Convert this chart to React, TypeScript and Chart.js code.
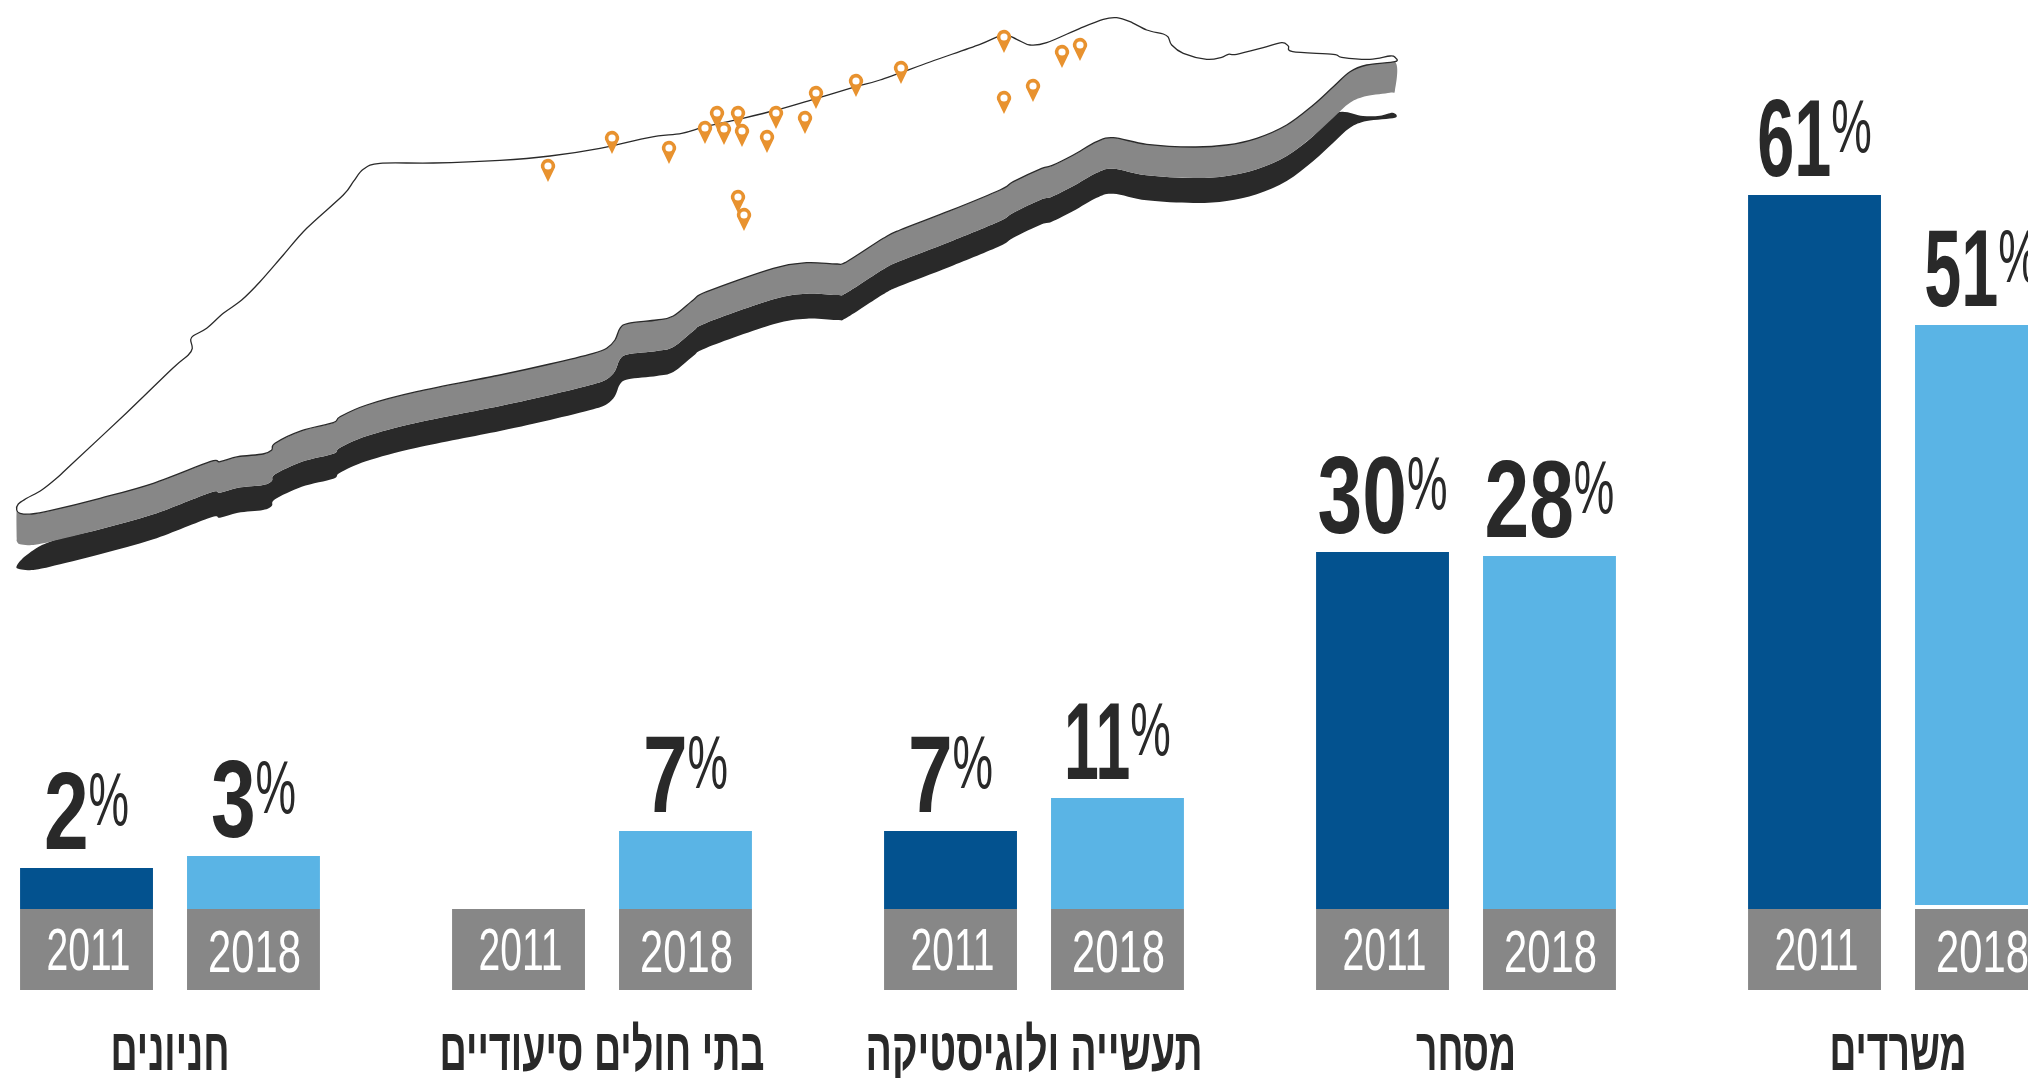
import React, { useEffect, useRef } from "react";
import { Chart, registerables, LinearScale } from "chart.js";

// ---- chart data -----------------------------------------------------------
const categories = ["חניונים", "בתי חולים סיעודיים", "תעשייה ולוגיסטיקה", "מסחר", "משרדים"];
const years = ["2011", "2018"];
const values2011: (number | null)[] = [2, null, 7, 30, 61];
const values2018: (number | null)[] = [3, 7, 11, 28, 51];

// The infographic does not draw its bars strictly to scale: printed percentage -> drawn height
const printedPercent = [0, 2, 3, 7, 11, 28, 30, 51, 61];
const drawnPercent = [0, 3.5, 4.53, 6.67, 9.49, 30.17, 30.51, 49.91, 61.03];

// Map coordinates
const pinX = [548, 612, 669, 705, 717, 724, 738, 742, 767, 776, 805, 816, 856, 738, 744, 901, 1004, 1062, 1080, 1004, 1033];
const pinY = [166, 138, 148, 128, 113, 129, 113, 131, 137, 113, 118, 93, 81, 197, 215, 68, 37, 52, 45, 98, 86];
const northEdge: [number, number][] = [
  [18.3, 504], [26.7, 498.3], [41.7, 490], [58.3, 476.7], [70, 465.7], [126.7, 412.7], [173, 368], [188.3, 355],
  [192.3, 348.3], [190.7, 340], [193.3, 335.7], [206.7, 328.3], [223.3, 313.3], [241.7, 300], [260, 281.7],
  [283.3, 255], [306.7, 228.3], [343.3, 195], [353.3, 181.7], [363.3, 169.3], [380, 163.3], [433.3, 163],
  [500, 160.3], [550, 156], [600, 148.3], [650, 137.3], [681.7, 133.3], [705, 126.7], [738.3, 119.3],
  [776.7, 110], [816.7, 98.3], [855.7, 86.7], [880, 80], [930, 62], [980, 44.3], [1003.3, 35], [1016.7, 39.3],
  [1030, 45], [1046.7, 42.7], [1080, 28.3], [1103.3, 19.3], [1116.7, 17.7], [1130, 21.7], [1146.7, 30],
  [1163.3, 34], [1168.3, 37.3], [1171.7, 45], [1183.3, 53.3], [1206.7, 59.3], [1221.7, 57.3], [1228.3, 54.3],
  [1236.7, 54.3], [1263.3, 47.7], [1281.7, 42.7], [1288.3, 46], [1292.7, 51.7], [1333.3, 54.3], [1341.7, 57.3],
  [1370, 59.3], [1390, 56], [1395, 57.3],
];
const southEdge: [number, number][] = [
  [1395, 61.7], [1366.7, 65], [1350, 71.7], [1333.3, 86.7], [1313.3, 105], [1286.7, 125], [1256.7, 138.3],
  [1226.7, 145], [1193.3, 147], [1146.7, 144.3], [1113.3, 137.7], [1096.7, 141.7], [1073.3, 155], [1051.7, 165.7],
  [1041.7, 168.3], [1013.3, 181.7], [1000, 190], [950, 210.7], [900, 230], [883.3, 238.3], [846.7, 261.7],
  [836.7, 264], [806.7, 262.7], [773.3, 268.3], [706.7, 291.7], [693.3, 300], [673.3, 316], [656.7, 320],
  [628.3, 323.3], [620, 328.3], [615, 340], [606.7, 348.3], [593.3, 353.3], [550, 364], [500, 375], [416.7, 391.7],
  [366.7, 405], [340, 416.7], [333.3, 422.7], [301.7, 430.7], [275, 443.3], [271.7, 450], [263, 454], [238, 456.7],
  [220, 461.7], [210, 461.7], [153.3, 483.3], [100, 498.3], [50, 510.7], [31.7, 514], [20, 513.3], [16.7, 510],
];
const sideCornerLeft: [number, number][] = [[16.7, 538], [16.7, 541]];
const sideCornerRight: [number, number][] = [[1390, 92.7], [1395, 90]];
const shadowLeft: [number, number][] = [[26.7, 555], [50, 541.7]];
const shadowTip: [number, number][] = [[1336.7, 112.7], [1363, 116], [1380, 115.7], [1392.7, 112.7]];

// ---- styles ---------------------------------------------------------------
const DARK_BLUE = "#03528F";
const LIGHT_BLUE = "#5AB4E5";
const GREY = "#878787";
const INK = "#292929";
const PIN = "#E8922F";
const FAMILY = '"Liberation Sans", sans-serif';
const yearWidths: Record<string, number> = { "2011": 84, "2018": 93 };
const categoryWidths = [119, 325, 337, 100, 137];
const tileGap = [0, 0, 0, 0, 4];
const digitNarrowing = [1, 0.83, 0.78];

class DrawnScale extends LinearScale {
  static id = "drawn";
  static defaults = {};
  getPixelForValue(value: number) {
    if (value === null || value === undefined) return NaN;
    let drawn = value;
    for (let i = 1; i < printedPercent.length; i++) {
      if (value <= printedPercent[i]) {
        const t = (value - printedPercent[i - 1]) / (printedPercent[i] - printedPercent[i - 1]);
        drawn = drawnPercent[i - 1] + t * (drawnPercent[i] - drawnPercent[i - 1]);
        break;
      }
    }
    return super.getPixelForValue(drawn);
  }
}

Chart.register(...registerables, DrawnScale);

function makePin() {
  const c = document.createElement("canvas");
  c.width = 18;
  c.height = 36;
  const g = c.getContext("2d")!;
  g.fillStyle = PIN;
  g.beginPath();
  g.arc(9, 18, 7.2, Math.PI * 0.93, Math.PI * 0.07);
  g.lineTo(9, 34);
  g.closePath();
  g.fill();
  g.fillStyle = "#fff";
  g.beginPath();
  g.arc(9, 18, 3.6, 0, Math.PI * 2);
  g.fill();
  return c;
}

// Closed curve through every listed point
function trace(ctx: CanvasRenderingContext2D, pts: [number, number][]) {
  const n = pts.length;
  const at = (i: number) => pts[(i + n) % n];
  ctx.beginPath();
  ctx.moveTo(pts[0][0], pts[0][1]);
  for (let i = 0; i < n; i++) {
    const a = at(i - 1);
    const p = at(i);
    const q = at(i + 1);
    const b = at(i + 2);
    ctx.bezierCurveTo(
      p[0] + (q[0] - a[0]) / 6,
      p[1] + (q[1] - a[1]) / 6,
      q[0] - (b[0] - p[0]) / 6,
      q[1] - (b[1] - p[1]) / 6,
      q[0],
      q[1],
    );
  }
  ctx.closePath();
}

function fitted(ctx: CanvasRenderingContext2D, text: string, cx: number, baseline: number, width: number) {
  ctx.save();
  const w = ctx.measureText(text).width;
  ctx.translate(cx, baseline);
  ctx.scale(width / w, 1);
  ctx.textAlign = "center";
  ctx.textBaseline = "alphabetic";
  ctx.fillText(text, 0, 0);
  ctx.restore();
}

const mapPlugin = {
  id: "relief",
  beforeDatasetsDraw(chart: any) {
    const { ctx, scales } = chart;
    const mx = (v: number) => scales.x.getPixelForValue(v);
    const my = (v: number) => scales.y.getPixelForValue(v);
    const place = (pts: [number, number][], dy = 0) =>
      pts.map(([x, y]) => [mx(x), my(y + dy)] as [number, number]);
    const rev = [...southEdge].reverse();

    ctx.save();
    ctx.fillStyle = INK;
    trace(ctx, [
      ...place(southEdge, 56),
      ...place(shadowLeft),
      ...place(rev.filter(([x]) => x > 60 && x < 1330), 31),
      ...place(shadowTip),
    ]);
    ctx.fill();

    ctx.fillStyle = GREY;
    trace(ctx, [
      ...place(southEdge),
      ...place(sideCornerLeft),
      ...place(rev.slice(1, -1), 31),
      ...place(sideCornerRight),
    ]);
    ctx.fill();

    ctx.fillStyle = "#ffffff";
    ctx.strokeStyle = "#2a2a2a";
    ctx.lineWidth = 1.3;
    trace(ctx, [...place(northEdge), ...place(southEdge)]);
    ctx.fill();
    ctx.stroke();
    ctx.restore();
  },
};

const labelPlugin = {
  id: "tilesAndLabels",
  afterDatasetsDraw(chart: any) {
    const { ctx, scales } = chart;
    const zero = scales.y.getPixelForValue(0);
    const tileHeight = 81;
    ctx.save();
    [values2011, values2018].forEach((series, d) => {
      const meta = chart.getDatasetMeta(d);
      series.forEach((value, i) => {
        const bar = meta.data[i];
        const left = bar.x - bar.width / 2;
        // year tile
        if (tileGap[i] && d === 1) {
          ctx.fillStyle = "#ffffff";
          ctx.fillRect(left, zero - tileGap[i], bar.width, tileGap[i]);
        }
        ctx.fillStyle = GREY;
        ctx.fillRect(left, zero, bar.width, tileHeight);
        ctx.fillStyle = "#ffffff";
        ctx.font = `60px ${FAMILY}`;
        fitted(ctx, years[d], bar.x + (d === 0 ? 2 : 1), zero + (d === 0 ? 61 : 63), yearWidths[years[d]]);

        // value label
        if (value === null) return;
        const baseline = scales.y.getPixelForValue(value) - 19;
        const digits = String(value);
        ctx.textAlign = "left";
        ctx.textBaseline = "alphabetic";
        ctx.font = `bold 110px ${FAMILY}`;
        const ones = digits.split("1").length - 1;
        const sx = 0.73 * digitNarrowing[ones];
        const dw = ctx.measureText(digits).width * sx;
        ctx.font = `76px ${FAMILY}`;
        const pw = ctx.measureText("%").width * 0.6;
        const x0 = bar.x - (dw + pw) / 2;
        ctx.fillStyle = INK;
        ctx.save();
        ctx.translate(x0, baseline);
        ctx.scale(sx, 1);
        ctx.font = `bold 110px ${FAMILY}`;
        ctx.fillText(digits, 0, 0);
        ctx.restore();
        ctx.save();
        ctx.translate(x0 + dw, baseline - 24);
        ctx.scale(0.6, 1);
        ctx.font = `76px ${FAMILY}`;
        ctx.fillText("%", 0, 0);
        ctx.restore();
      });
    });

    // category names
    ctx.fillStyle = INK;
    ctx.font = `bold 60px ${FAMILY}`;
    categories.forEach((name, i) => {
      const cx = scales.x.getPixelForValue(i);
      fitted(ctx, name, cx, 1070, categoryWidths[i]);
    });
    ctx.restore();
  },
};

export default function App() {
  const barRef = useRef<HTMLCanvasElement>(null);
  const mapRef = useRef<HTMLCanvasElement>(null);
  useEffect(() => {
    const bars = new Chart(barRef.current!, {
      type: "bar",
      data: {
        labels: categories,
        datasets: [
          { label: years[0], data: values2011, backgroundColor: DARK_BLUE },
          { label: years[1], data: values2018, backgroundColor: LIGHT_BLUE },
        ],
      },
      options: {
        animation: false,
        responsive: false,
        devicePixelRatio: 1,
        layout: { autoPadding: false, padding: { left: 0, right: 0, top: 0, bottom: 169 } },
        categoryPercentage: 0.773,
        barPercentage: 0.796,
        plugins: { legend: { display: false }, tooltip: { enabled: false } },
        scales: {
          x: { type: "category", display: false, offset: true },
          y: { type: "drawn", axis: "y", display: false, min: 0, max: 77.69 },
        },
      } as any,
      plugins: [labelPlugin],
    });
    const map = new Chart(mapRef.current!, {
      type: "scatter",
      data: {
        datasets: [
          {
            label: "pins",
            data: pinX.map((x, i) => ({ x, y: pinY[i] })),
            pointStyle: makePin(),
            pointRadius: 10,
          },
        ],
      },
      options: {
        animation: false,
        responsive: false,
        devicePixelRatio: 1,
        layout: { autoPadding: false, padding: 0 },
        plugins: { legend: { display: false }, tooltip: { enabled: false } },
        scales: {
          x: { type: "linear", display: false, min: 0, max: 1420 },
          y: { type: "linear", display: false, min: 0, max: 600, reverse: true },
        },
      } as any,
      plugins: [mapPlugin],
    });
    return () => {
      bars.destroy();
      map.destroy();
    };
  }, []);
  return (
    <div style={{ position: "fixed", left: 0, top: 0, width: 2028, height: 1078, overflow: "hidden", background: "#fff" }}>
      <canvas ref={barRef} width={2160} height={1078} style={{ position: "absolute", left: -46, top: 0, width: 2160, height: 1078 }} />
      <canvas ref={mapRef} width={1420} height={600} style={{ position: "absolute", left: 0, top: 0, width: 1420, height: 600 }} />
    </div>
  );
}
